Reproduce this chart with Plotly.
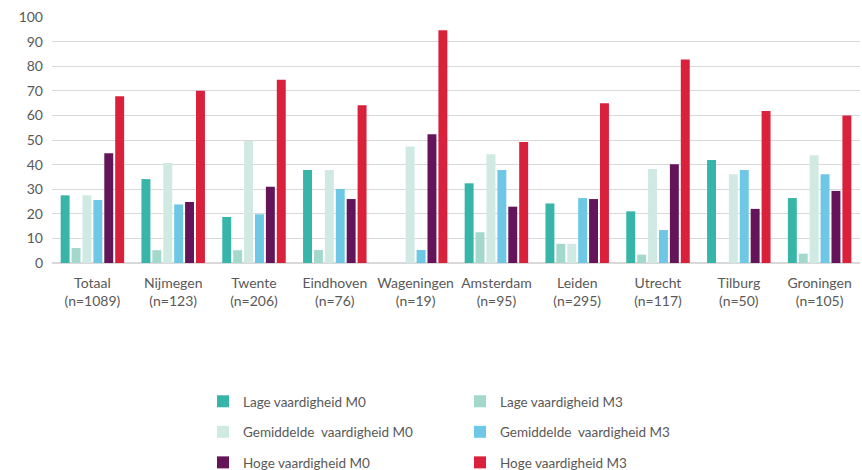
import plotly.graph_objects as go

categories = ["Totaal<br>(n=1089)", "Nijmegen<br>(n=123)", "Twente<br>(n=206)", "Eindhoven<br>(n=76)",
              "Wageningen<br>(n=19)", "Amsterdam<br>(n=95)", "Leiden<br>(n=295)", "Utrecht<br>(n=117)",
              "Tilburg<br>(n=50)", "Groningen<br>(n=105)"]

lage_m0 = [27.5, 34.1, 18.7, 37.8, 0, 32.4, 24.2, 21.0, 41.9, 26.4]
lage_m3 = [6.1, 5.2, 5.2, 5.3, 0, 12.5, 7.8, 3.4, 0, 3.8]
gem_m0 = [27.5, 40.7, 49.6, 37.8, 47.4, 44.2, 7.8, 38.2, 36.1, 43.8]
gem_m3 = [25.6, 23.8, 19.8, 30.1, 5.3, 37.8, 26.4, 13.4, 37.8, 36.1]
hoge_m0 = [44.6, 24.8, 31.0, 26.0, 52.3, 22.9, 26.0, 40.1, 22.0, 29.3]
hoge_m3 = [67.8, 70.0, 74.5, 64.1, 94.6, 49.2, 64.9, 82.7, 61.8, 60.0]

series = [
    ("Lage vaardigheid M0", lage_m0, "#37B5A8", "legend"),
    ("Lage vaardigheid M3", lage_m3, "#A3D8CD", "legend2"),
    ("Gemiddelde  vaardigheid M0", gem_m0, "#D0EAE3", "legend"),
    ("Gemiddelde  vaardigheid M3", gem_m3, "#6EC8E5", "legend2"),
    ("Hoge vaardigheid M0", hoge_m0, "#64155A", "legend"),
    ("Hoge vaardigheid M3", hoge_m3, "#D9213C", "legend2"),
]

fig = go.Figure()
for name, vals, color, leg in series:
    fig.add_trace(go.Bar(
        name=name, x=categories, y=vals,
        marker=dict(color=color, line=dict(width=0)),
        legend=leg, legendgroup=name,
    ))

W, H = 862, 470
ML, MR, MT, MB = 52, 2, 17, 207
plot_h = H - MT - MB
plot_w = W - ML - MR


def pos_y(px):
    # paper y fraction for a pixel row measured from the top
    return (H - MB - px) / plot_h


def pos_x(px):
    return (px - ML) / plot_w


font_color = "#595959"
legend_common = dict(
    orientation="v", yanchor="top", xanchor="left",
    font=dict(family="Lato, sans-serif", size=13.5, color=font_color),
    tracegroupgap=10, bgcolor="rgba(0,0,0,0)",
)

fig.update_layout(
    width=W, height=H,
    margin=dict(l=ML, r=MR, t=MT, b=MB, autoexpand=False),
    paper_bgcolor="white", plot_bgcolor="white",
    barmode="group", bargap=0.19, bargroupgap=0.18,
    font=dict(family="Lato, sans-serif", size=14, color=font_color),
    legend=dict(x=pos_x(203), y=pos_y(386), **legend_common),
    legend2=dict(x=pos_x(460), y=pos_y(386), **legend_common),
    xaxis=dict(showline=False, ticks="", ticklabelstandoff=10, automargin=False,
               tickfont=dict(size=14, color=font_color)),
    yaxis=dict(range=[0, 100], dtick=10, automargin=False,
               showgrid=True, gridcolor="#D9D9D9",
               gridwidth=1, zeroline=True, zerolinecolor="#D9D9D9",
               ticks="", ticklabelstandoff=8,
               tickfont=dict(size=14, color=font_color)),
)

fig.write_html("out.html")
